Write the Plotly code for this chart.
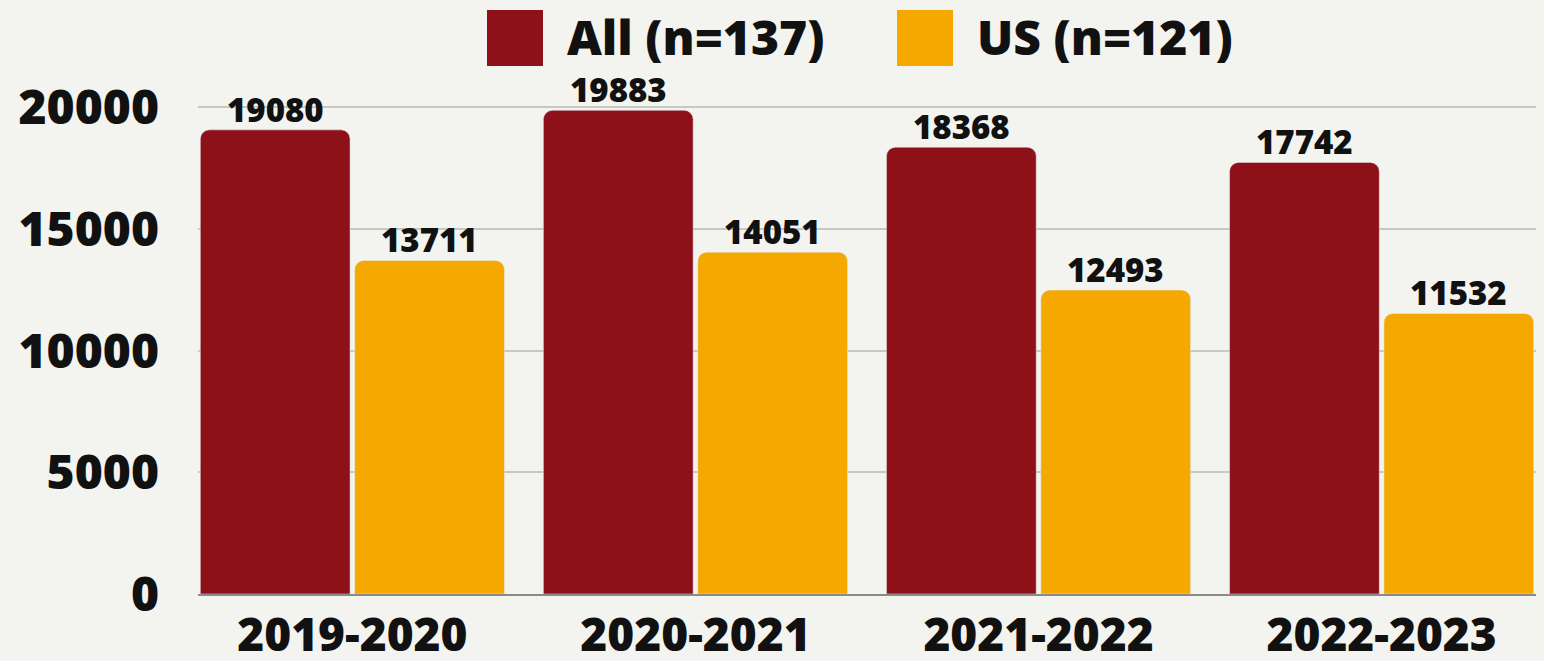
import plotly.graph_objects as go

years = ["2019-2020", "2020-2021", "2021-2022", "2022-2023"]
all_counts = [19080, 19883, 18368, 17742]
us_counts = [13711, 14051, 12493, 11532]
series_names = ["All (n=137)", "US (n=121)"]
colors = ["#8e111a", "#f5a800"]
y_ticks = [0, 5000, 10000, 15000, 20000]

W, H = 1544, 661
left, right, top, bottom = 198, 8, 71, 67
FONT = "Open Sans"
BARGAP, GROUPGAP = 0.1, 0.03

fig = go.Figure()
slot = (1 - BARGAP) / 2
for k, (name, vals, col) in enumerate(zip(series_names, [all_counts, us_counts], colors)):
    xs = list(range(len(years)))
    fig.add_trace(go.Bar(
        x=xs, y=vals, name=name,
        marker=dict(color=col, cornerradius=9),
        showlegend=False,
    ))
    # value labels as annotations so they sit tight on the bars
    shift = (k - 0.5) * slot
    for xi, v in zip(xs, vals):
        fig.add_annotation(x=xi + shift, y=v, text=str(v), showarrow=False,
                           xanchor="center", yanchor="bottom", yshift=-4,
                           font=dict(family=FONT, size=33, color="#111", weight=800))

# legend drawn by hand so the swatches can be large
pw = W - left - right
ph = H - top - bottom
def px(x):
    return (x - left) / pw
def py(y):
    return (H - bottom - y) / ph

legend_items = [(487, 565), (897, 975)]
for (sx, tx), name, col in zip(legend_items, series_names, colors):
    fig.add_shape(type="rect", xref="paper", yref="paper",
                  x0=px(sx), x1=px(sx + 56), y0=py(66), y1=py(10),
                  fillcolor=col, line=dict(width=0), layer="above")
    fig.add_annotation(xref="paper", yref="paper", x=px(tx), y=py(37),
                       xanchor="left", yanchor="middle", text=name, showarrow=False,
                       font=dict(family=FONT, size=48, color="#111", weight=800))

fig.update_layout(
    width=W, height=H,
    margin=dict(l=left, r=right, t=top, b=bottom),
    paper_bgcolor="#f3f4ef", plot_bgcolor="#f3f4ef",
    barmode="group", bargap=BARGAP, bargroupgap=GROUPGAP,
    xaxis=dict(tickvals=list(range(len(years))), ticktext=years,
               range=[-0.45, 3.45], showgrid=False, zeroline=False,
               showline=True, linecolor="#8a8a8a", linewidth=2,
               ticks="", ticklabelstandoff=0, automargin=False,
               tickfont=dict(family=FONT, size=46, color="#111", weight=800)),
    yaxis=dict(range=[0, 21500], tickvals=y_ticks, ticktext=[str(t) for t in y_ticks],
               showgrid=True, gridcolor="#c8c8c3", gridwidth=2,
               zeroline=False, ticks="", ticklabelstandoff=38, automargin=False,
               tickfont=dict(family=FONT, size=48, color="#111", weight=800)),
)

fig.write_html("out.html", config={"displayModeBar": False},
               post_script="document.body.style.margin='0';")
